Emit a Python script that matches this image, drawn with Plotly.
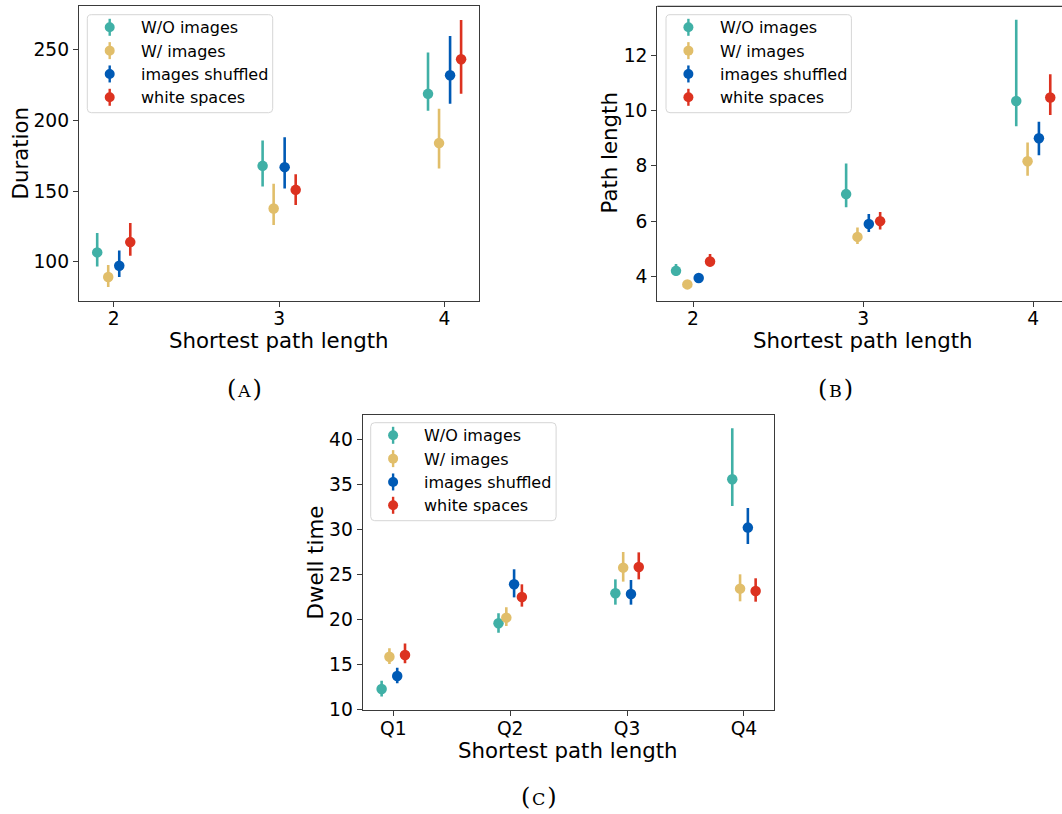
import plotly.graph_objects as go

# ---- data ---------------------------------------------------------------
series = ["W/O images", "W/ images", "images shuffled", "white spaces"]
colors = ["#40B0A6", "#E1BE6A", "#005AB5", "#DC3220"]

# (A) duration by shortest path length
len_cats = [2, 3, 4]
dur_mean = [[106.6, 167.9, 218.9], [89.2, 137.7, 184.0], [97.2, 167.0, 232.1], [113.9, 150.9, 243.4]]
dur_lo = [[96.7, 153.2, 207.0], [82.1, 126.0, 166.0], [89.2, 151.9, 211.8], [104.2, 140.1, 218.9]]
dur_hi = [[120.3, 185.8, 248.1], [97.7, 155.2, 208.4], [108.0, 188.2, 259.9], [127.4, 162.0, 271.2]]

# (B) path length by shortest path length
pl_mean = [[4.20, 6.98, 10.35], [3.71, 5.43, 8.17], [3.94, 5.90, 9.00], [4.54, 6.00, 10.48]]
pl_lo = [[4.01, 6.50, 9.44], [3.62, 5.17, 7.64], [3.87, 5.61, 8.39], [4.35, 5.70, 9.84]]
pl_hi = [[4.45, 8.09, 13.29], [3.80, 5.77, 8.85], [4.01, 6.26, 9.60], [4.81, 6.33, 11.32]]

# (C) dwell time by shortest-path quartile
q_cats = ["Q1", "Q2", "Q3", "Q4"]
dw_mean = [[12.26, 19.56, 22.89, 35.56], [15.85, 20.19, 25.74, 23.41],
           [13.70, 23.89, 22.81, 30.19], [16.04, 22.48, 25.81, 23.15]]
dw_lo = [[11.44, 18.52, 21.63, 32.59], [15.04, 19.26, 24.19, 22.00],
         [12.89, 22.44, 21.63, 28.37], [15.11, 21.41, 24.44, 21.96]]
dw_hi = [[13.19, 20.67, 24.44, 41.22], [16.78, 21.33, 27.48, 25.00],
         [14.63, 25.56, 24.37, 32.37], [17.33, 23.89, 27.44, 24.56]]

# ---- figure -------------------------------------------------------------
W, H = 1062, 814
FONT = "DejaVu Sans"
AX = "#3a3a3a"
dodge = [-0.1, -1 / 30, 1 / 30, 0.1]

fig = go.Figure()


def px_x(p):
    return p / W


def px_y(p):
    return 1 - p / H


def add_panel(xpos, means, los, his, xa, ya):
    for i, name in enumerate(series):
        xs = [x + dodge[i] for x in xpos]
        fig.add_trace(go.Scatter(
            x=xs, y=means[i], mode="markers", name=name,
            marker=dict(color=colors[i], size=10.5),
            error_y=dict(type="data", symmetric=False,
                         array=[h - m for h, m in zip(his[i], means[i])],
                         arrayminus=[m - l for l, m in zip(los[i], means[i])],
                         color=colors[i], thickness=2.6, width=0),
            xaxis=xa, yaxis=ya, showlegend=False,
        ))


add_panel(len_cats, dur_mean, dur_lo, dur_hi, "x", "y")
add_panel(len_cats, pl_mean, pl_lo, pl_hi, "x2", "y2")
add_panel(list(range(len(q_cats))), dw_mean, dw_lo, dw_hi, "x3", "y3")

tickfont = dict(family=FONT, size=18.7, color="black")
common = dict(showgrid=False, zeroline=False, showline=True, linecolor=AX, linewidth=1.2,
              ticks="outside", ticklen=5, tickwidth=1.2, tickcolor=AX, tickfont=tickfont,
              automargin=False)
xcommon = dict(common, ticklabelstandoff=-4)

# panel geometry (pixels)
A = dict(l=79, r=479.3, t=6.3, b=300.7)
B = dict(l=657.3, r=1062, t=6.3, b=300.7)
C = dict(l=362.7, r=774, t=414.7, b=710)

fig.update_layout(
    width=W, height=H, margin=dict(l=0, r=0, t=0, b=0, autoexpand=False),
    paper_bgcolor="white", plot_bgcolor="white", showlegend=False,
    xaxis=dict(domain=[px_x(A["l"]), px_x(A["r"])], range=[1.79, 4.21], anchor="y",
               tickvals=len_cats, ticktext=[str(c) for c in len_cats], mirror=True, **xcommon),
    yaxis=dict(domain=[px_y(A["b"]), px_y(A["t"])], range=[72.4, 280.9], anchor="x",
               tickvals=[100, 150, 200, 250], mirror=True, **common),
    xaxis2=dict(domain=[px_x(B["l"]), px_x(B["r"])], range=[1.79, 4.169], anchor="y2",
                tickvals=len_cats, ticktext=[str(c) for c in len_cats], **xcommon),
    yaxis2=dict(domain=[px_y(B["b"]), px_y(B["t"])], range=[3.12, 13.78], anchor="x2",
                tickvals=[4, 6, 8, 10, 12], **common),
    xaxis3=dict(domain=[px_x(C["l"]), px_x(C["r"])], range=[-0.262, 3.257], anchor="y3",
                tickvals=list(range(len(q_cats))), ticktext=q_cats, mirror=True, **xcommon),
    yaxis3=dict(domain=[px_y(C["b"]), px_y(C["t"])], range=[9.93, 42.73], anchor="x3",
                tickvals=[10, 15, 20, 25, 30, 35, 40], mirror=True, **common),
)

# top border of panel B (its right edge runs off the canvas)
fig.add_shape(type="line", xref="paper", yref="paper",
              x0=px_x(B["l"]), x1=1, y0=px_y(B["t"]), y1=px_y(B["t"]),
              line=dict(color=AX, width=1.2))


def label(text, x, y, angle=0, font=None, anchor="center"):
    fig.add_annotation(text=text, x=px_x(x), y=px_y(y), xref="paper", yref="paper",
                       showarrow=False, textangle=angle, font=font,
                       xanchor=anchor, yanchor="middle")


# ---- per-panel legends ----------------------------------------------------
LEG_W, LEG_H, RAD = 185.4, 98, 4
legfont = dict(family=FONT, size=16, color="black")


def legend_box(left, top):
    r, b = left + LEG_W, top + LEG_H
    X, Y = px_x, px_y
    path = (f"M {X(left + RAD)},{Y(top)} L {X(r - RAD)},{Y(top)} Q {X(r)},{Y(top)} {X(r)},{Y(top + RAD)} "
            f"L {X(r)},{Y(b - RAD)} Q {X(r)},{Y(b)} {X(r - RAD)},{Y(b)} "
            f"L {X(left + RAD)},{Y(b)} Q {X(left)},{Y(b)} {X(left)},{Y(b - RAD)} "
            f"L {X(left)},{Y(top + RAD)} Q {X(left)},{Y(top)} {X(left + RAD)},{Y(top)} Z")
    fig.add_shape(type="path", path=path, xref="paper", yref="paper",
                  fillcolor="rgba(255,255,255,0.8)", line=dict(color="#d6d6d6", width=1))
    for i, name in enumerate(series):
        cx, cy = left + 22.4, top + 12.6 + i * 23.33
        fig.add_shape(type="line", xref="paper", yref="paper",
                      x0=px_x(cx), x1=px_x(cx), y0=px_y(cy - 8.5), y1=px_y(cy + 8.5),
                      line=dict(color=colors[i], width=2.4))
        rr = 5
        fig.add_shape(type="circle", xref="paper", yref="paper",
                      x0=px_x(cx - rr), x1=px_x(cx + rr), y0=px_y(cy + rr), y1=px_y(cy - rr),
                      fillcolor=colors[i], line=dict(width=0))
        label(name, left + 51.7, cy + 0.5, font=legfont, anchor="left")


legend_box(87.3, 14.7)
legend_box(666, 14.7)
legend_box(370.7, 422.7)

# ---- axis titles and captions -----------------------------------------------
titlefont = dict(family=FONT, size=21.3, color="black")
label("Duration", 20, 153.5, -90, font=titlefont)
label("Path length", 609, 153.5, -90, font=titlefont)
label("Dwell time", 315, 562.4, -90, font=titlefont)
label("Shortest path length", 279.2, 341, font=titlefont)
label("Shortest path length", 863, 341, font=titlefont)
label("Shortest path length", 568.4, 750, font=titlefont)

capfont = dict(family="DejaVu Serif", size=24, color="black")
sc = "<span style='font-size:17.5px'>&#8202;{}&#8202;</span>"
label("(" + sc.format("A") + ")", 244, 389, font=capfont)
label("(" + sc.format("B") + ")", 835, 389, font=capfont)
label("(" + sc.format("C") + ")", 539, 797, font=capfont)

fig.write_html("out.html")
